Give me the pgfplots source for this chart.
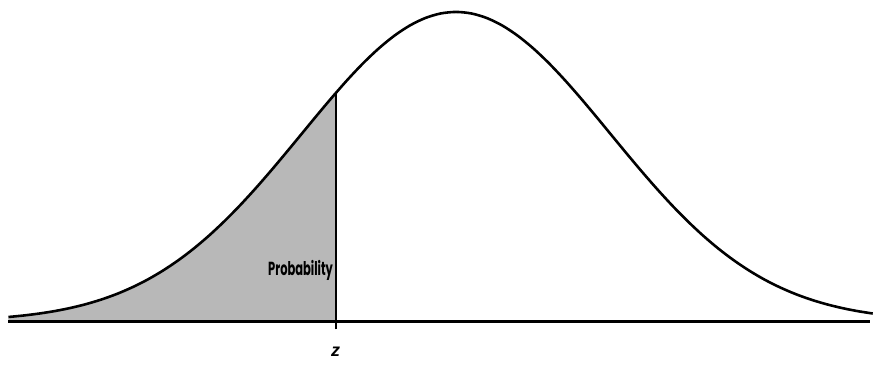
\documentclass[border=0pt]{standalone}
\usepackage{pgfplots}
\pgfplotsset{compat=1.18}
\usepackage{fontspec}
\setmainfont{Liberation Sans}
\newfontfamily\labfont{Poppins}
\begin{document}
\begin{tikzpicture}
\begin{axis}[
  scale only axis, width=437pt, height=183.5pt,
  xmin=-2.955, xmax=2.684, ymin=-0.1415, ymax=1.0386,
  hide axis, clip=false,
]
\path (rel axis cs:0,0) rectangle (rel axis cs:1,1);
% shaded area
\addplot[draw=none, fill=black!28] coordinates {
(-2.9,0) (-2.9,0.0149) (-2.8,0.0198) (-2.7,0.0261) (-2.6,0.0340) (-2.5,0.0439)
(-2.4,0.0561) (-2.3,0.0710) (-2.2,0.0889) (-2.1,0.1103) (-2.0,0.1353)
(-1.9,0.1645) (-1.8,0.1979) (-1.7,0.2357) (-1.6,0.2780) (-1.5,0.3247)
(-1.4,0.3753) (-1.3,0.4296) (-1.2,0.4868) (-1.1,0.5461) (-1.0,0.6065)
(-0.9,0.6670) (-0.8,0.7261) (-0.78,0.7377) (-0.78,0)} \closedcycle;
% curve
\addplot[black, line width=1.3pt, smooth] coordinates {
(-2.9,0.0149) (-2.8,0.0198) (-2.7,0.0261) (-2.6,0.0340) (-2.5,0.0439)
(-2.4,0.0561) (-2.3,0.0710) (-2.2,0.0889) (-2.1,0.1103) (-2.0,0.1353)
(-1.9,0.1645) (-1.8,0.1979) (-1.7,0.2357) (-1.6,0.2780) (-1.5,0.3247)
(-1.4,0.3753) (-1.3,0.4296) (-1.2,0.4868) (-1.1,0.5461) (-1.0,0.6065)
(-0.9,0.6670) (-0.8,0.7261) (-0.7,0.7827) (-0.6,0.8353) (-0.5,0.8825)
(-0.4,0.9231) (-0.3,0.9560) (-0.2,0.9802) (-0.1,0.9950) (0,1)
(0.1,0.9950) (0.2,0.9802) (0.3,0.9560) (0.4,0.9231) (0.5,0.8825)
(0.6,0.8353) (0.7,0.7827) (0.8,0.7261) (0.9,0.6670) (1.0,0.6065)
(1.1,0.5461) (1.2,0.4868) (1.3,0.4296) (1.4,0.3753) (1.5,0.3247)
(1.6,0.2780) (1.7,0.2357) (1.8,0.1979) (1.9,0.1645) (2.0,0.1353)
(2.1,0.1103) (2.2,0.0889) (2.3,0.0710) (2.4,0.0561) (2.5,0.0439)
(2.6,0.0340) (2.7,0.0261)};
% baseline
\addplot[black, line width=1.6pt] coordinates {(-2.9,0) (2.684,0)};
% z line
\addplot[black, line width=1.1pt] coordinates {(-0.78,-0.025) (-0.78,0.7377)};
\node[anchor=base east, inner sep=0pt, font=\labfont\bfseries\fontsize{9.5}{10}\selectfont] at (axis cs:-0.795,0.15) {\resizebox{32.5pt}{\height}{Probability}};
\node[anchor=base, inner sep=0pt, font=\bfseries\itshape\fontsize{9}{10}\selectfont] at (axis cs:-0.78,-0.112) {z};
\end{axis}
\end{tikzpicture}
\end{document}
